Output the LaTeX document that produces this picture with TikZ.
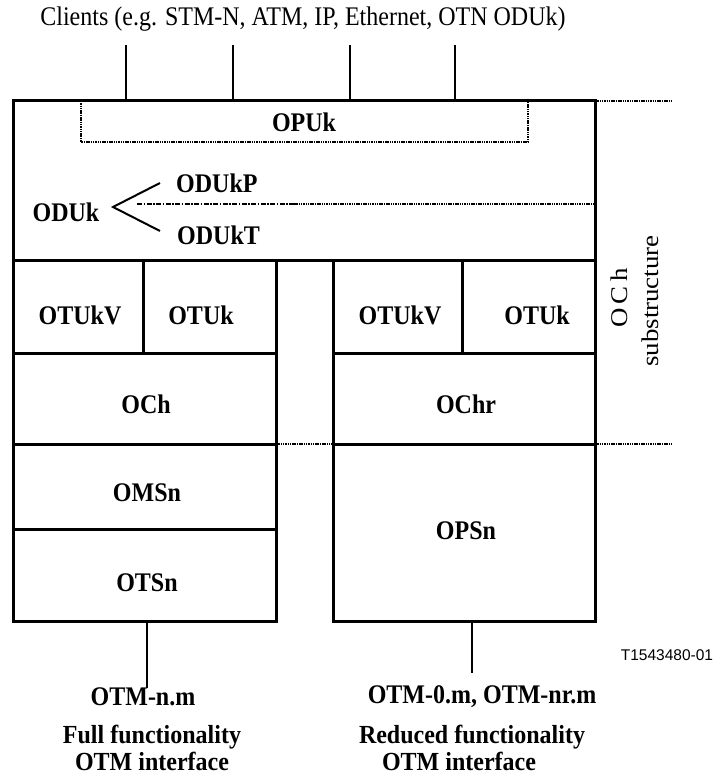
\documentclass[tikz,border=0pt]{standalone}
\usepackage{fontspec}
\setmainfont{Liberation Serif}
\newfontfamily\arialfont{Liberation Sans}
\begin{document}
\begin{tikzpicture}[x=1pt,y=-1pt,
  cell/.style={draw, line width=3pt, rectangle, inner sep=0pt, outer sep=0pt},
  lbl/.style={font=\fontsize{24}{28}\selectfont\bfseries, inner sep=0pt, align=center, yscale=1.12, transform shape},
  txt/.style={font=\fontsize{24}{28}\selectfont, inner sep=0pt, yscale=1.12, transform shape},
  wire/.style={line width=2pt},
  dotx/.style={line width=2.5pt, dash pattern=on 1.5pt off 0.8pt},
  dashx/.style={line width=1.6pt, dash pattern=on 5pt off 1.5pt on 1.5pt off 1.5pt},
]
\useasboundingbox (0,0) rectangle (716,775);

% top region (OPUk / ODUk)
\node[cell, minimum width=582pt, minimum height=160pt] (top) at (304,181) {};
% left column
\node[cell, minimum width=130pt, minimum height=92pt] (otukvL) at (78,307) {};
\node[cell, minimum width=133pt, minimum height=92pt] (otukL) at (209.5,307) {};
\node[cell, minimum width=263pt, minimum height=91pt] (och) at (144.5,398.5) {};
\node[cell, minimum width=263pt, minimum height=85pt] (omsn) at (144.5,486.5) {};
\node[cell, minimum width=263pt, minimum height=92pt] (otsn) at (144.5,575) {};
% right column
\node[cell, minimum width=129pt, minimum height=92pt] (otukvR) at (397.5,307) {};
\node[cell, minimum width=133pt, minimum height=92pt] (otukR) at (528.5,307) {};
\node[cell, minimum width=262pt, minimum height=91pt] (ochr) at (464,398.5) {};
\node[cell, minimum width=262pt, minimum height=177pt] (opsn) at (464,532.5) {};

% cell labels
\node[lbl] (l1) at (80,315) {OTUkV};
\node[lbl] (l2) at (201,315) {OTUk};
\node[lbl] (l3) at (400,315) {OTUkV};
\node[lbl] (l4) at (537,315) {OTUk};
\node[lbl] (l5) at (146,404) {OCh};
\node[lbl] (l6) at (466,404) {OChr};
\node[lbl] (l7) at (147,493) {OMSn};
\node[lbl] (l8) at (147,583) {OTSn};
\node[lbl] (l9) at (466,531) {OPSn};

% OPUk dotted box
\coordinate (pa) at (81,101);
\coordinate (pb) at (528,101);
\draw[dotx] (pa) -- (pa |- 0,142) -- (pb |- 0,142) -- (pb);
\node[lbl] (opuk) at (304,122) {OPUk};

% ODUk
\node[lbl] (oduk) at (66,212) {ODUk};
\node[lbl, anchor=west] (odukp) at (176,183) {ODUkP};
\node[lbl, anchor=west] (odukt) at (177,235) {ODUkT};
\coordinate (vtx) at (113,207);
\coordinate (vp) at (160,183);
\coordinate (vt) at (160,231);
\draw[wire, line join=miter] (vp) -- (vtx) -- (vt);
\coordinate (dstart) at (137,204);
\coordinate (dmid) at (294,204);
\draw[dashx] (dstart) -- (dmid);
\draw[dotx, line width=2pt] (dmid) -- (dmid -| top.east);

% clients
\node[txt] (clients) at (303,19) {Clients (e.g. STM-N, ATM, IP, Ethernet, OTN ODUk)};
\foreach \i/\x in {1/126,2/233,3/350,4/455}{
  \coordinate (c\i) at (\x,45);
  \draw[wire] (c\i) -- (c\i |- top.north);
}

% dotted extensions
\coordinate (e1) at (671,101);
\coordinate (e2) at (671,444);
\draw[dotx] (top.north east) -- (e1);
\draw[dotx] (ochr.south east) -- (e2);
\draw[dotx] (och.south east) -- (ochr.south west);

% OCh substructure
\node[txt, rotate=90] (ochs) at (619,298) {O\,C\,h};
\node[txt, rotate=90] (subs) at (650,301) {substructure};

% interfaces
\coordinate (i1) at (147,688);
\coordinate (i2) at (472,673);
\draw[wire] (otsn.south -| i1) -- (i1);
\draw[wire] (opsn.south -| i2) -- (i2);
\node[lbl] (otmn) at (143,697) {OTM-n.m};
\node[lbl] (otm0) at (482,697) {OTM-0.m, OTM-nr.m};
\node[lbl, anchor=base, yscale=0.97] (fullf) at (152,743) {Full functionality};
\node[lbl, anchor=base, yscale=0.97] (fullo) at (152,770) {OTM interface};
\node[lbl, anchor=base, yscale=0.97] (redf) at (472,743) {Reduced functionality};
\node[lbl, anchor=base, yscale=0.97] (redo) at (459,770) {OTM interface};

\node[inner sep=0pt, font=\arialfont\fontsize{15.5}{18}\selectfont] (tnum) at (667,655) {T1543480-01};
\end{tikzpicture}
\end{document}
